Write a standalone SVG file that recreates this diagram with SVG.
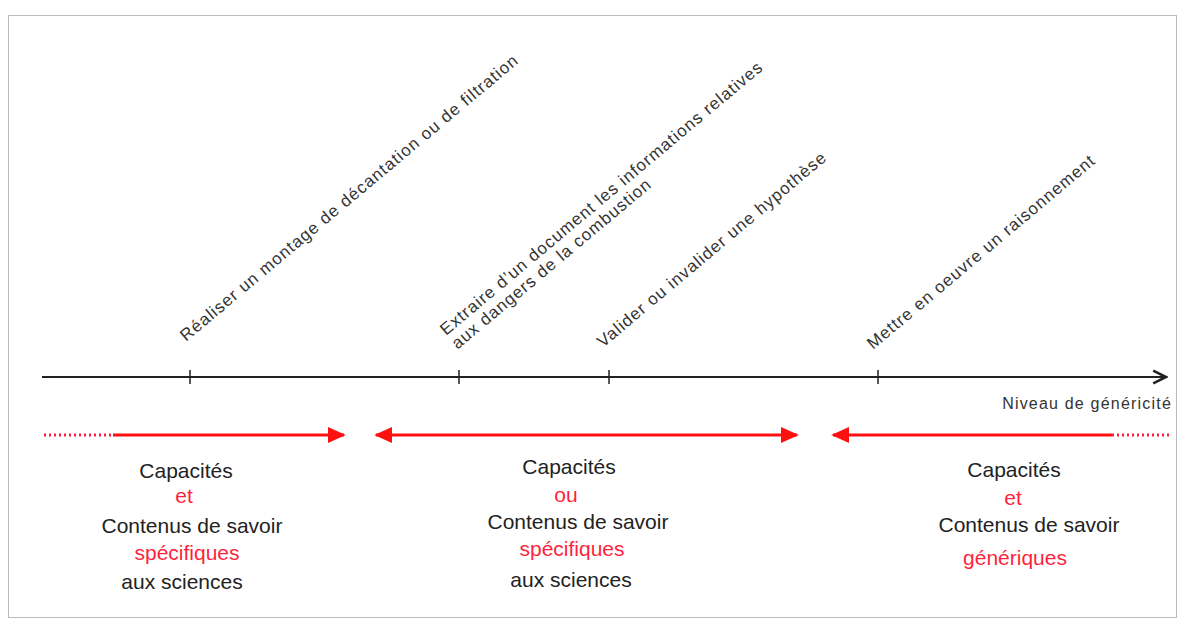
<svg xmlns="http://www.w3.org/2000/svg" width="1178" height="623" viewBox="0 0 1178 623">
<defs>
<style>
.lbl{font-family:"Liberation Sans",Arial,sans-serif;font-size:17px;letter-spacing:1px;fill:#333}
.axl{font-family:"Liberation Sans",Arial,sans-serif;font-size:16px;letter-spacing:1.2px;fill:#333;text-anchor:end}
.blk{font-family:"Liberation Sans",Arial,sans-serif;font-size:21px;fill:#222;text-anchor:middle}
.red{fill:#ff1f3d}
.axis{stroke:#222;stroke-width:2;fill:none}
.tick{stroke:#222;stroke-width:1.5}
.rs{stroke:#ff1010;stroke-width:3;fill:none}
.rd{stroke:#ff1a40;stroke-width:3;stroke-dasharray:2 3;fill:none}
</style>
<marker id="ah" viewBox="0 0 10 10" refX="9" refY="5" markerWidth="16" markerHeight="16" markerUnits="userSpaceOnUse" orient="auto">
<path d="M1,1 L9,5 L1,9" fill="none" stroke="#222" stroke-width="1.6"/>
</marker>
<marker id="rh" viewBox="0 0 10 10" refX="9" refY="5" markerWidth="18" markerHeight="18" markerUnits="userSpaceOnUse" orient="auto-start-reverse">
<path d="M0,0.5 L10,5 L0,9.5 Z" fill="#ff1010"/>
</marker>
</defs>
<rect x="0" y="0" width="1178" height="623" fill="#fff"/>
<rect x="8.5" y="15.5" width="1168" height="602" fill="none" stroke="#bbb" stroke-width="1"/>

<g id="connectors">
<line class="axis" x1="42" y1="377" x2="1166" y2="377" marker-end="url(#ah)"/>
<line class="tick" x1="190" y1="370" x2="190" y2="384"/>
<line class="tick" x1="459" y1="370" x2="459" y2="384"/>
<line class="tick" x1="609" y1="370" x2="609" y2="384"/>
<line class="tick" x1="878" y1="370" x2="878" y2="384"/>
<line class="rd" x1="44" y1="435" x2="113" y2="435"/>
<line class="rs" x1="113" y1="435" x2="344" y2="435" marker-end="url(#rh)"/>
<line class="rs" x1="376" y1="435" x2="797" y2="435" marker-start="url(#rh)" marker-end="url(#rh)"/>
<line class="rs" x1="833" y1="435" x2="1112" y2="435" marker-start="url(#rh)"/>
<line class="rd" x1="1112" y1="435" x2="1172" y2="435"/>
</g>

<g id="tick1"><text class="lbl" transform="translate(186,342) rotate(-40)">Réaliser un montage de décantation ou de filtration</text></g>
<g id="tick2"><text class="lbl" transform="translate(446,336) rotate(-40)"><tspan x="0" y="0">Extraire d’un document les informations relatives</tspan><tspan x="0" y="18">aux dangers de la combustion</tspan></text></g>
<g id="tick3"><text class="lbl" transform="translate(603,348) rotate(-40)">Valider ou invalider une hypothèse</text></g>
<g id="tick4"><text class="lbl" transform="translate(873,350) rotate(-40)">Mettre en oeuvre un raisonnement</text></g>
<g id="axislabel"><text class="axl" x="1172" y="409">Niveau de généricité</text></g>

<g id="left">
<text class="blk" x="186" y="478">Capacités</text>
<text class="blk red" x="184" y="503">et</text>
<text class="blk" x="192" y="533">Contenus de savoir</text>
<text class="blk red" x="187" y="560">spécifiques</text>
<text class="blk" x="182" y="589">aux sciences</text>
</g>
<g id="middle">
<text class="blk" x="569" y="474">Capacités</text>
<text class="blk red" x="566" y="502">ou</text>
<text class="blk" x="578" y="529">Contenus de savoir</text>
<text class="blk red" x="572" y="556">spécifiques</text>
<text class="blk" x="571" y="587">aux sciences</text>
</g>
<g id="right">
<text class="blk" x="1014" y="477">Capacités</text>
<text class="blk red" x="1013" y="505">et</text>
<text class="blk" x="1029" y="532">Contenus de savoir</text>
<text class="blk red" x="1015" y="565">génériques</text>
</g>
</svg>
